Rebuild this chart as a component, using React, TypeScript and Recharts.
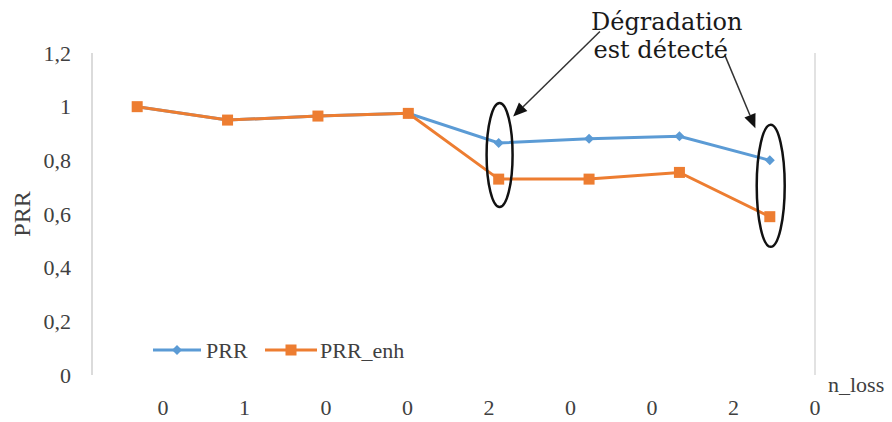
import React from "react";
import {
  LineChart,
  Line,
  XAxis,
  YAxis,
  CartesianGrid,
  Legend,
  ReferenceDot,
  ReferenceLine,
} from "recharts";

// values
const positions = [0, 1, 2, 3, 4, 5, 6, 7];
const prr = [1.0, 0.95, 0.965, 0.975, 0.865, 0.88, 0.89, 0.8];
const prrEnh = [1.0, 0.95, 0.965, 0.975, 0.73, 0.73, 0.755, 0.59];
const nLossLabels = ["0", "1", "0", "0", "2", "0", "0", "2", "0"];
const yTicks = [0, 0.2, 0.4, 0.6, 0.8, 1, 1.2];

const data = positions.map((i, k) => ({ i, PRR: prr[k], PRR_enh: prrEnh[k] }));

const BLUE = "#5b9bd5";
const ORANGE = "#ed7d31";
const TEXT = "#404040";
const SERIF = "'Liberation Serif', 'DejaVu Serif', serif";

const gridTicks = [-0.5, 0.5, 1.5, 2.5, 3.5, 4.5, 5.5, 6.5, 7.5];
const labelTicks = [0, 1, 2, 3, 4, 5, 6, 7, 8];

const textStyle = { fontFamily: SERIF, fontSize: 22 };

function Diamond(props: any) {
  const { cx, cy } = props;
  if (cx == null || cy == null) return null;
  const r = 5;
  return (
    <polygon
      key={`d-${cx}`}
      points={`${cx},${cy - r} ${cx + r},${cy} ${cx},${cy + r} ${cx - r},${cy}`}
      fill={BLUE}
    />
  );
}

function Square(props: any) {
  const { cx, cy } = props;
  if (cx == null || cy == null) return null;
  const s = 11;
  return <rect key={`s-${cx}`} x={cx - s / 2} y={cy - s / 2} width={s} height={s} fill={ORANGE} />;
}

function YTick(props: any) {
  const { x, y, payload } = props;
  return (
    <text x={x} y={y} textAnchor="end" dominantBaseline="central" style={textStyle} fill={TEXT}>
      {String(payload.value).replace(".", ",")}
    </text>
  );
}

function XTick(props: any) {
  const { x, y, payload } = props;
  return (
    <text x={x} y={y} textAnchor="middle" dominantBaseline="central" style={textStyle} fill={TEXT}>
      {nLossLabels[payload.value]}
    </text>
  );
}

function LegendContent() {
  return (
    <svg width={270} height={26} style={{ display: "block" }}>
      <line x1={0} y1={13} x2={48} y2={13} stroke={BLUE} strokeWidth={3} />
      <polygon points="24,8 29,13 24,18 19,13" fill={BLUE} />
      <text x={53} y={13} dominantBaseline="central" style={textStyle} fill={TEXT}>
        PRR
      </text>
      <line x1={112} y1={13} x2={164} y2={13} stroke={ORANGE} strokeWidth={3} />
      <rect x={132.5} y={7.5} width={11} height={11} fill={ORANGE} />
      <text x={167} y={13} dominantBaseline="central" style={textStyle} fill={TEXT}>
        PRR_enh
      </text>
    </svg>
  );
}

function Arrow(props: any) {
  const { x1, y1, x2, y2 } = props;
  if ([x1, y1, x2, y2].some((v) => v == null)) return null;
  const ang = Math.atan2(y2 - y1, x2 - x1);
  const len = 14;
  const w = 6;
  const bx = x2 - len * Math.cos(ang);
  const by = y2 - len * Math.sin(ang);
  const px = -Math.sin(ang) * w;
  const py = Math.cos(ang) * w;
  return (
    <g>
      <line x1={x1} y1={y1} x2={bx} y2={by} stroke="#333" strokeWidth={1.5} />
      <polygon points={`${x2},${y2} ${bx + px},${by + py} ${bx - px},${by - py}`} fill="#111" />
    </g>
  );
}

function ellipseShape(rx: number, ry: number) {
  return (p: any) => (
    <ellipse cx={p.cx} cy={p.cy} rx={rx} ry={ry} fill="none" stroke="#111" strokeWidth={2.5} />
  );
}

function NoteText(p: any) {
  return (
    <text
      x={p.cx}
      y={p.cy}
      textAnchor="middle"
      style={{ fontFamily: "'DejaVu Serif', serif", fontSize: 24 }}
      fill="#1a1a1a"
    >
      <tspan x={p.cx}>Dégradation</tspan>
      <tspan x={p.cx - 6} dy={28}>est détecté</tspan>
    </text>
  );
}

function AxisName(p: any) {
  return (
    <text x={p.cx + 13} y={p.cy + 17} style={textStyle} fill={TEXT}>
      n_loss
    </text>
  );
}

function YName(props: any) {
  const vb = props.viewBox || {};
  const cx = 22;
  const cy = vb.y + vb.height / 2;
  return (
    <text
      x={cx}
      y={cy}
      transform={`rotate(-90 ${cx} ${cy})`}
      textAnchor="middle"
      dominantBaseline="central"
      style={{ fontFamily: SERIF, fontSize: 24 }}
      fill={TEXT}
    >
      PRR
    </text>
  );
}

export default function App() {
  return (
    <div style={{ position: "absolute", left: 0, top: 0, background: "#fff" }}>
      <LineChart
        width={892}
        height={422}
        data={data}
        margin={{ top: 27, right: 77, bottom: 0, left: 0 }}
      >
        <CartesianGrid vertical horizontal={false} stroke="#d9d9d9" strokeWidth={1.5} />
        <XAxis
          dataKey="i"
          type="number"
          domain={[-0.5, 7.5]}
          ticks={gridTicks}
          tick={false}
          tickLine={false}
          height={0}
          axisLine={{ stroke: "#bfbfbf", strokeWidth: 1.5 }}
        />
        <XAxis
          xAxisId="lab"
          dataKey="i"
          type="number"
          domain={[0, 8]}
          ticks={labelTicks}
          interval={0}
          padding={{ left: 71, right: 0 }}
          axisLine={false}
          tickLine={false}
          tickSize={0}
          tickMargin={32}
          height={47}
          tick={<XTick />}
        />
        <YAxis
          domain={[0, 1.2]}
          ticks={yTicks}
          interval={0}
          width={92}
          tickLine={false}
          tickSize={0}
          tickMargin={21}
          axisLine={{ stroke: "#d9d9d9", strokeWidth: 1.5 }}
          tick={<YTick />}
          label={<YName />}
        />
        <Legend
          verticalAlign="top"
          align="left"
          content={<LegendContent />}
          wrapperStyle={{ position: "absolute", left: 153, top: 337, width: "auto" }}
        />
        <Line
          dataKey="PRR"
          stroke={BLUE}
          strokeWidth={3}
          dot={Diamond}
          activeDot={false}
          isAnimationActive={false}
        />
        <Line
          dataKey="PRR_enh"
          stroke={ORANGE}
          strokeWidth={3}
          dot={Square}
          activeDot={false}
          isAnimationActive={false}
        />
        <ReferenceDot x={4.01} y={0.82} ifOverflow="visible" shape={ellipseShape(13, 52)} />
        <ReferenceDot x={7.01} y={0.705} ifOverflow="visible" shape={ellipseShape(14, 61)} />
        <ReferenceLine
          segment={[
            { x: 5.12, y: 1.28 },
            { x: 4.16, y: 0.963 },
          ]}
          ifOverflow="visible"
          shape={Arrow}
        />
        <ReferenceLine
          segment={[
            { x: 6.5, y: 1.194 },
            { x: 6.84, y: 0.92 },
          ]}
          ifOverflow="visible"
          shape={Arrow}
        />
        <ReferenceDot x={5.86} y={1.287} ifOverflow="visible" shape={NoteText} />
        <ReferenceDot x={7.5} y={0} ifOverflow="visible" shape={AxisName} />
      </LineChart>
    </div>
  );
}
